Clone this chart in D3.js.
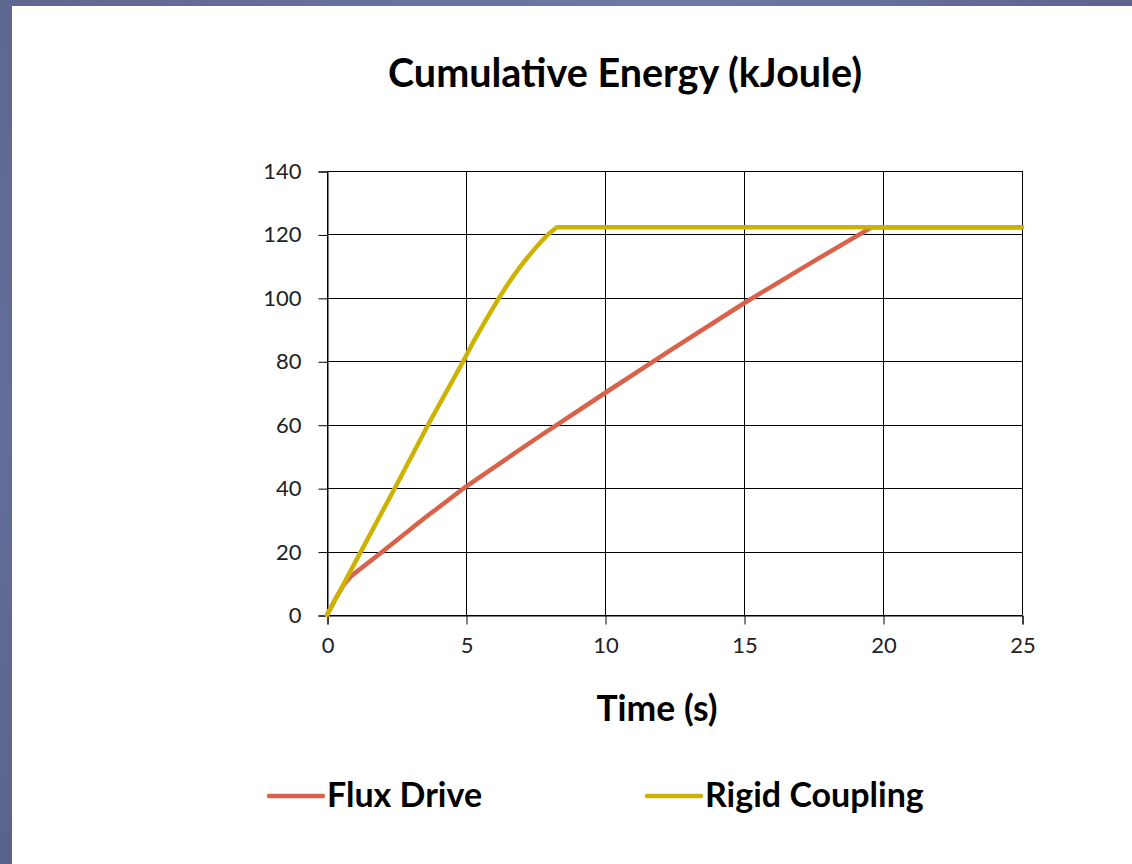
<!DOCTYPE html>
<html><head><meta charset="utf-8">
<script src="https://cdn.jsdelivr.net/npm/d3@7"></script>
<style>html,body{margin:0;padding:0;background:#fff;}svg{display:block;}</style>
</head><body>
<script>
const title = "Cumulative Energy (kJoule)";
const xLabel = "Time (s)";
const seriesNames = ["Flux Drive", "Rigid Coupling"];
const seriesColors = ["#d9634a", "#cdb300"];
const xTicks = [0, 5, 10, 15, 20, 25];
const yTicks = [0, 20, 40, 60, 80, 100, 120, 140];
const fluxTime = [0, 0.3, 0.6, 0.9, 2, 3.5, 5, 7.5, 10, 12.5, 15, 17.5, 19.6, 25];
const fluxEnergy = [0, 5, 9.5, 12.5, 20, 30.5, 40.5, 55.5, 70, 84.3, 98.3, 111.5, 122.3, 122.3];
const rigidTime = [0, 1.44, 2.5, 3.7, 4.9, 5.3, 5.75, 6.19, 6.45, 6.7, 6.94, 7.2, 7.45, 7.7, 7.95, 8.27, 25];
const rigidEnergy = [0, 23.6, 41, 61, 80, 86.7, 93.5, 100, 103.6, 106.8, 109.7, 112.6, 115.2, 117.7, 120, 122.3, 122.3];

const W = 1132, H = 864;
const svg = d3.select("body").append("svg").attr("width", W).attr("height", H);
const defs = svg.append("defs");
const g1 = defs.append("linearGradient").attr("id","topg").attr("x1","0").attr("x2","1").attr("y1","0").attr("y2","0");
g1.append("stop").attr("offset","0").attr("stop-color","#5d678f");
g1.append("stop").attr("offset","0.6").attr("stop-color","#6f79a8");
g1.append("stop").attr("offset","1").attr("stop-color","#5b648d");
const g2 = defs.append("linearGradient").attr("id","leftg").attr("x1","0").attr("x2","0").attr("y1","0").attr("y2","1");
g2.append("stop").attr("offset","0").attr("stop-color","#5d678f");
g2.append("stop").attr("offset","0.5").attr("stop-color","#636d9a");
g2.append("stop").attr("offset","1").attr("stop-color","#59638a");
svg.append("rect").attr("x",0).attr("y",0).attr("width",W).attr("height",H).attr("fill","#fff");
svg.append("rect").attr("x",0).attr("y",0).attr("width",W).attr("height",6).attr("fill","url(#topg)");
svg.append("rect").attr("x",0).attr("y",0).attr("width",12).attr("height",H).attr("fill","url(#leftg)");

const font = "Lato, 'Open Sans', sans-serif";
const x = d3.scaleLinear().domain([0,25]).range([327,1022]);
const y = d3.scaleLinear().domain([0,140]).range([615,171]);

// gridlines
const grid = svg.append("g");
grid.selectAll("line.h").data(yTicks).join("line")
  .attr("x1", x(0)).attr("x2", x(25)).attr("y1", d=>Math.round(y(d))+0.5).attr("y2", d=>Math.round(y(d))+0.5)
  .attr("stroke","#000").attr("stroke-width",1);
grid.selectAll("line.v").data(xTicks).join("line")
  .attr("y1", y(0)).attr("y2", y(140)).attr("x1", d=>Math.round(x(d))+0.5).attr("x2", d=>Math.round(x(d))+0.5)
  .attr("stroke","#000").attr("stroke-width",1);

// axes
const yAxis = svg.append("g").attr("transform",`translate(${x(0)+0.5},0.5)`)
  .call(d3.axisLeft(y).tickValues(yTicks).tickSize(9).tickPadding(17).tickFormat(d3.format("d")));
const xAxis = svg.append("g").attr("transform",`translate(0.5,${y(0)+0.5})`)
  .call(d3.axisBottom(x).tickValues(xTicks).tickSize(9).tickPadding(13).tickFormat(d3.format("d")));
[yAxis, xAxis].forEach(a => {
  a.select(".domain").attr("stroke","#000");
  a.selectAll(".tick line").attr("stroke","#000");
  a.selectAll("text").attr("font-family", font).attr("font-size", 22).attr("fill","#222");
});

// lines
const line = d3.line().x(d=>x(d[0])).y(d=>y(d[1]));
const flux = fluxTime.map((t,i)=>[t, fluxEnergy[i]]);
const rigid = rigidTime.map((t,i)=>[t, rigidEnergy[i]]);
svg.append("path").datum(flux).attr("d", line).attr("fill","none")
  .attr("stroke", seriesColors[0]).attr("stroke-width",4.5).attr("stroke-linejoin","round").attr("stroke-linecap","round");
svg.append("path").datum(rigid).attr("d", line).attr("fill","none")
  .attr("stroke", seriesColors[1]).attr("stroke-width",4.5).attr("stroke-linejoin","round").attr("stroke-linecap","round");

// title
svg.append("text").attr("x", 625).attr("y", 87).attr("text-anchor","middle")
  .attr("font-family", font).attr("font-weight","bold").attr("font-size", 39.5).attr("fill","#000").text(title);
svg.append("text").attr("x", 657).attr("y", 721).attr("text-anchor","middle")
  .attr("font-family", font).attr("font-weight","bold").attr("font-size", 35.5).attr("fill","#000").text(xLabel);

// legend
const legX = [269, 647];
const leg = svg.append("g");
seriesNames.forEach((n,i)=>{
  leg.append("line").attr("x1", legX[i]).attr("x2", legX[i]+54).attr("y1", 796).attr("y2", 796)
    .attr("stroke", seriesColors[i]).attr("stroke-width",4.5).attr("stroke-linecap","round");
  leg.append("text").attr("x", legX[i]+58).attr("y", 807).attr("font-family", font).attr("font-weight","bold")
    .attr("font-size", 34).attr("fill","#000").text(n);
});
</script>
</body></html>
